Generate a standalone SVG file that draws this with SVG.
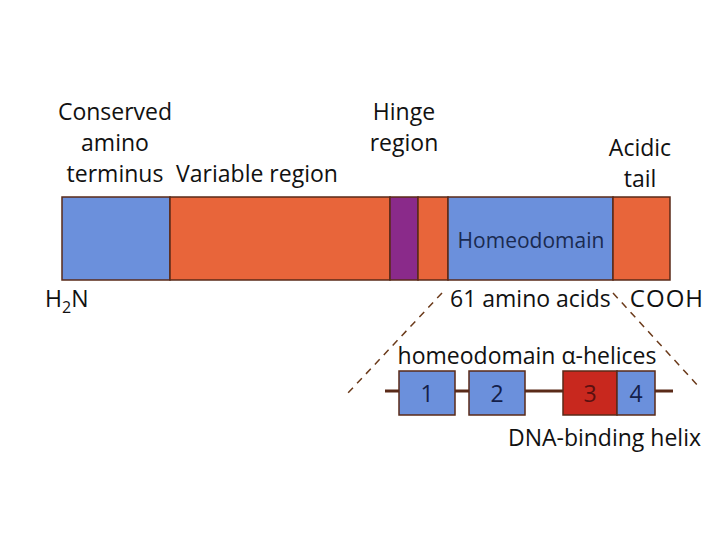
<svg xmlns="http://www.w3.org/2000/svg" width="720" height="540" viewBox="0 0 720 540">
<style>
.t{font-family:"Open Sans","Noto Sans","Liberation Sans",sans-serif;font-size:23px;fill:#111}
.seg{stroke:#5a2a18;stroke-width:1.5}
.blue{fill:#6b90dc}
.orange{fill:#e8653a}
.purple{fill:#8a2a8a}
.red{fill:#c8281e}
.dash{stroke:#6b3a1a;stroke-width:1.5;stroke-dasharray:7,6;fill:none}
.n{font-size:23px;fill:#14204a}
</style>
<rect width="720" height="540" fill="#fff"/>
<g id="labels">
<text class="t" x="115" y="120" text-anchor="middle">Conserved</text>
<text class="t" x="115" y="151" text-anchor="middle">amino</text>
<text class="t" x="115" y="182" text-anchor="middle">terminus</text>
<text class="t" x="257" y="182" text-anchor="middle">Variable region</text>
<text class="t" x="404" y="120" text-anchor="middle">Hinge</text>
<text class="t" x="404" y="151" text-anchor="middle">region</text>
<text class="t" x="640" y="156" text-anchor="middle">Acidic</text>
<text class="t" x="640" y="187" text-anchor="middle">tail</text>
</g>
<g id="protein">
<rect class="seg blue" x="62" y="197" width="108" height="83"/>
<rect class="seg orange" x="170" y="197" width="220" height="83"/>
<rect class="seg purple" x="390" y="197" width="28" height="83"/>
<rect class="seg orange" x="418" y="197" width="30" height="83"/>
<rect class="seg blue" x="448" y="197" width="165" height="83"/>
<rect class="seg orange" x="613" y="197" width="57" height="83"/>
<text class="t" x="531" y="248" text-anchor="middle" style="font-size:21px;fill:#1a2a50">Homeodomain</text>
</g>
<g id="ends">
<text class="t" x="45" y="307">H<tspan style="font-size:16px" dy="6">2</tspan><tspan dy="-6">N</tspan></text>
<text class="t" x="450" y="307">61 amino acids</text>
<text class="t" x="704" y="307" text-anchor="end" style="font-size:24px;letter-spacing:1px">COOH</text>
</g>
<g id="connectors">
<line class="dash" x1="442" y1="293" x2="348" y2="393"/>
<line class="dash" x1="613" y1="293" x2="700" y2="388"/>
<line x1="385" y1="391" x2="673" y2="391" stroke="#5a2a18" stroke-width="3"/>
</g>
<g id="helices">
<text class="t" x="527" y="364" text-anchor="middle">homeodomain α-helices</text>
<g id="h1"><rect class="seg blue" x="399" y="371" width="56" height="44"/><text class="t n" x="427" y="402" text-anchor="middle">1</text></g>
<g id="h2"><rect class="seg blue" x="469" y="371" width="56" height="44"/><text class="t n" x="497" y="402" text-anchor="middle">2</text></g>
<g id="h3"><rect class="seg red" x="563" y="371" width="54" height="44"/><text class="t n" x="590" y="402" text-anchor="middle" style="fill:#5a1010">3</text></g>
<g id="h4"><rect class="seg blue" x="617" y="371" width="38" height="44"/><text class="t n" x="636" y="402" text-anchor="middle">4</text></g>
<text class="t" x="701" y="446" text-anchor="end">DNA-binding helix</text>
</g>
</svg>
